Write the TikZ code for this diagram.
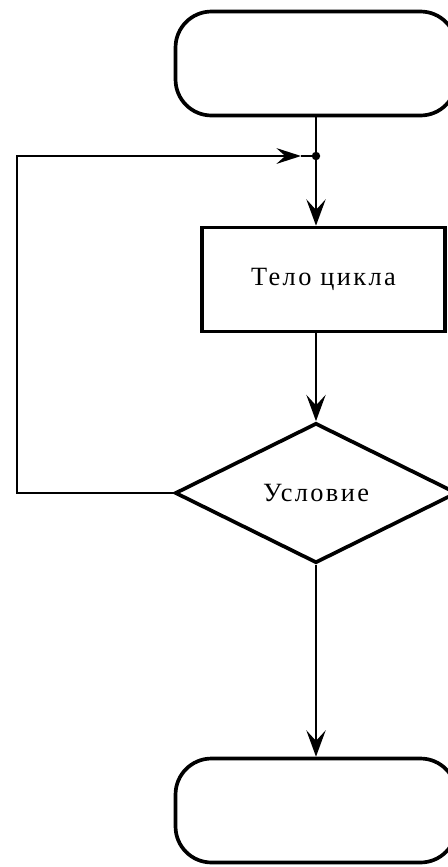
\documentclass[tikz,border=0pt]{standalone}
\usepackage{fontspec}
\setmainfont{Liberation Serif}
\usetikzlibrary{shapes.geometric,arrows.meta}

\tikzset{
  term/.style={rectangle,rounded corners=0.72cm,draw=black,line width=2.1pt,
    minimum width=5.62cm,minimum height=2.08cm},
  bodybox/.style={rectangle,draw=black,line width=2.1pt,
    minimum width=4.86cm,minimum height=2.08cm,align=center},
  cond/.style={diamond,draw=black,line width=2.1pt,inner sep=0pt,
    minimum width=5.64cm,minimum height=2.8cm,align=center},
  flow/.style={line width=0.9pt,-{Stealth[length=15pt,width=11pt,inset=6pt]}},
  plain/.style={line width=0.9pt}
}

\begin{document}
\begin{tikzpicture}[x=0.02cm,y=-0.02cm]
  \useasboundingbox (0,0) rectangle (448,867);
  \clip (0,0) rectangle (448,867);

  % shapes
  \node (start)[term] at (316,63.5) {};
  \node (body)[bodybox] at (323.5,279.5) {\fontsize{15pt}{17pt}\selectfont\addfontfeatures{LetterSpace=9}Тело цикла};
  \node (test)[cond] at (316,493) {\fontsize{15pt}{17pt}\selectfont\addfontfeatures{LetterSpace=9}Условие};
  \node (stop)[term] at (316,810.5) {};

  % junction point of the loop
  \coordinate (join) at (316,156);
  \coordinate (corner) at (17,156);
  \coordinate (tip) at (301,156);
  \fill (join) circle (2.4pt);

  % connectors
  \draw[plain] (start.south) -- (join);
  \draw[flow] (join) -- (body.north -| join);
  \draw[flow] (body.south -| join) -- (test.north);
  \draw[flow] (test.south) -- (stop.north);
  \draw[flow,-{Stealth[length=14pt,width=9pt,inset=5pt]}] (test.west) -| (corner) -- (tip);
  \draw[plain] (tip) -- (join);
\end{tikzpicture}
\end{document}
